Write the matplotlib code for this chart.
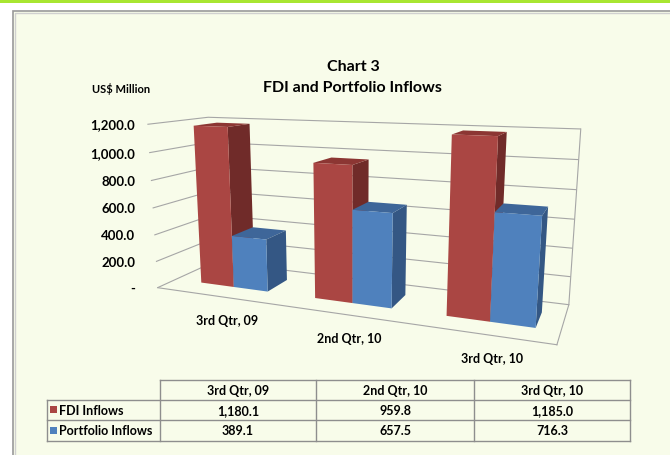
import matplotlib
matplotlib.use("Agg")
import matplotlib.pyplot as plt
from matplotlib.patches import Rectangle
from mpl_toolkits.mplot3d import proj3d

# -----------------------------------
# DATA
# -----------------------------------
categories = ["3rd Qtr, 09", "2nd Qtr, 10", "3rd Qtr, 10"]
fdi_inflows = [1180.1, 959.8, 1185.0]
portfolio_inflows = [389.1, 657.5, 716.3]
series_names = ["FDI Inflows", "Portfolio Inflows"]
z_ticks = [0, 200, 400, 600, 800, 1000, 1200]
z_tick_labels = ["-", "200.0", "400.0", "600.0", "800.0", "1,000.0", "1,200.0"]

# -----------------------------------
# STYLE
# -----------------------------------
plt.rcParams['font.family'] = ['Lato', 'DejaVu Sans']
plt.rcParams['font.weight'] = 'bold'

cream = "#F8FCEA"
grid_gray = "#A6A6A6"
hidden = (0, 0, 0, 0)
# face colours: bottom, top, front, back, left, right
red_faces = [hidden, "#8C3633", "#AA4643", hidden, hidden, "#702B29"]
blue_faces = [hidden, "#3E6699", "#4F81BD", hidden, hidden, "#345784"]

fig = plt.figure(figsize=(6.7, 4.56), dpi=100)

# -----------------------------------
# BACKGROUND, FRAME AND TABLE (pixel axes)
# -----------------------------------
bg = fig.add_axes([0, 0, 1, 1])
bg.set_xlim(0, 670)
bg.set_ylim(456, 0)
bg.axis('off')

bg.add_patch(Rectangle((0, 0), 670, 4, color="#A8E631", lw=0))
bg.add_patch(Rectangle((12.5, 11.5), 700, 500, facecolor=cream,
                       edgecolor="#9A9A9A", lw=1.2))
bg.add_patch(Rectangle((14.5, 13.5), 700, 500, facecolor="none",
                       edgecolor="#D0D0D0", lw=1.0))

bg.text(353, 67, "Chart 3", ha='center', va='center', fontsize=11.5)
bg.text(352, 88, "FDI and Portfolio Inflows", ha='center', va='center', fontsize=11.5)
bg.text(121, 89, "US$ Million", ha='center', va='center', fontsize=8)

# table
col_edges = [160, 316, 474, 630]
row_edges = [381, 401, 421, 442]
label_left = 47
line_kw = dict(color="#8E8E8E", lw=1.0)

bg.plot([col_edges[0], col_edges[-1]], [row_edges[0], row_edges[0]], **line_kw)
for y in row_edges[1:]:
    bg.plot([label_left, col_edges[-1]], [y, y], **line_kw)
bg.plot([label_left, label_left], [row_edges[1], row_edges[-1]], **line_kw)
for x in col_edges:
    bg.plot([x, x], [row_edges[0], row_edges[-1]], **line_kw)

table_values = [fdi_inflows, portfolio_inflows]
swatches = [red_faces[2], blue_faces[2]]
for j, cat in enumerate(categories):
    xc = (col_edges[j] + col_edges[j + 1]) / 2
    bg.text(xc, (row_edges[0] + row_edges[1]) / 2, cat,
            ha='center', va='center', fontsize=9)
for r, name in enumerate(series_names):
    yc = (row_edges[r + 1] + row_edges[r + 2]) / 2
    bg.add_patch(Rectangle((50, yc - 3.5), 7, 7, color=swatches[r], lw=0))
    bg.text(59, yc, name, ha='left', va='center', fontsize=9)
    for j, v in enumerate(table_values[r]):
        xc = (col_edges[j] + col_edges[j + 1]) / 2
        bg.text(xc, yc, f"{v:,.1f}", ha='center', va='center', fontsize=9)

# -----------------------------------
# 3D COLUMN CHART
# -----------------------------------
ax = fig.add_axes([0.125, 0.2114, 0.80, 0.62], projection='3d')
ax.patch.set_alpha(0)
ax.set_proj_type('persp', focal_length=0.45)
ax.view_init(elev=12, azim=-68)
ax.set_box_aspect((3.8, 1.0, 1.6), zoom=1.575)
ax.set_xlim(0, 3)
ax.set_ylim(0, 1)
ax.set_zlim(0, 1200)
ax.computed_zorder = False

for axis in (ax.xaxis, ax.yaxis, ax.zaxis):
    axis.set_pane_color((1, 1, 1, 0))
    axis.pane.set_edgecolor((1, 1, 1, 0))
    axis.line.set_color(grid_gray)
    axis.line.set_linewidth(0.8)
    axis._axinfo['grid'].update(color=grid_gray, linewidth=0.8)
    axis._axinfo['tick'].update(inward_factor=0, outward_factor=0)

ax.set_xticks([])
ax.set_yticks([])
ax.set_zticks(z_ticks)
ax.set_zticklabels([])

bar_w = 0.3
bar_x0 = 0.24
bar_y, bar_d = 0.3, 0.4
zo = 1
# draw far (left) to near (right)
for i in range(len(categories)):
    for k, (vals, faces) in enumerate([(fdi_inflows, red_faces), (portfolio_inflows, blue_faces)]):
        bars = ax.bar3d(i + bar_x0 + k * bar_w, bar_y, 0, bar_w, bar_d, vals[i],
                        color=faces, shade=False, edgecolor='none', zorder=zo)
        bars.set_clip_on(False)
        zo += 1

# labels placed from projected 3D positions
fig.canvas.draw()
M = ax.get_proj()


def to_px(x, y, z):
    xs, ys, _ = proj3d.proj_transform(x, y, z, M)
    dx, dy = ax.transData.transform((xs, ys))
    return dx, 456 - dy


x_top, _ = to_px(0, 0, z_ticks[-1])
for z, lab in zip(z_ticks, z_tick_labels):
    _, py = to_px(0, 0, z)
    bg.text(x_top - 12, py, lab, ha='right', va='center', fontsize=9.5)

for i, cat in enumerate(categories):
    px, py = to_px(i + 0.5, 0, 0)
    bg.text(px + 15, py + 25, cat, ha='center', va='center', fontsize=9)

fig.savefig("out.png", dpi=100)
